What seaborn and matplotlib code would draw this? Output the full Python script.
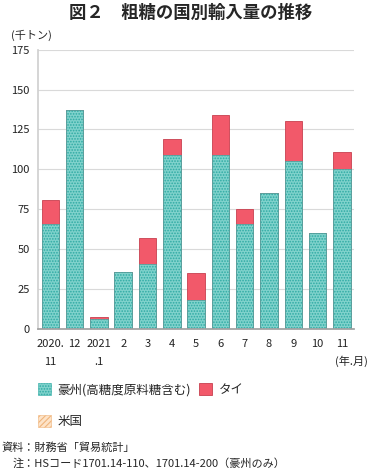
import numpy as np
import pandas as pd
import seaborn as sns
import matplotlib.pyplot as plt
from matplotlib.patches import Patch

# data (千トン)
months = ["2020.\n11", "12", "2021\n.1", "2", "3", "4", "5", "6", "7", "8", "9", "10", "11"]
australia = [66, 137, 6, 36, 41, 109, 18, 109, 66, 85, 105, 60, 100]
thailand = [15, 0, 1.5, 0, 16, 10, 17, 25, 9, 0, 25, 0, 11]
usa = [0, 0, 0, 0, 0, 0, 0, 0, 0, 0, 0, 0, 0]
y_ticks = [0, 25, 50, 75, 100, 125, 150, 175]

sns.set_theme(style="white")
plt.rcParams["font.family"] = ["Noto Sans CJK JP", "DejaVu Sans"]
plt.rcParams["hatch.linewidth"] = 0.8

df = pd.DataFrame({"month": months, "aus": australia, "thai": thailand, "usa": usa})
df["total_thai"] = df["aus"] + df["usa"] + df["thai"]
df["total_aus"] = df["aus"]

fig = plt.figure(figsize=(3.7, 4.68), dpi=100)
ax = fig.add_axes([0.103, 0.297, 0.854, 0.597])

c_aus, c_aus_edge = "#80d2cc", "#2eaaa3"
c_thai, c_thai_edge = "#f2596a", "#c8404f"
c_usa, c_usa_edge = "#fde3c8", "#f0b47a"

# タイは合計の高さで描いて、その上に豪州を重ねる
sns.barplot(data=df, x="month", y="total_thai", order=months, color=c_thai,
            saturation=1, width=0.72, edgecolor=c_thai_edge, linewidth=0.6, ax=ax)
sns.barplot(data=df, x="month", y="total_aus", order=months, color=c_aus,
            saturation=1, width=0.72, edgecolor=c_aus_edge, linewidth=0.4,
            hatch="......", ax=ax)

ax.set_xlim(-0.5, len(months) - 0.5)
ax.set_ylim(0, 175)
ax.set_yticks(y_ticks)
ax.yaxis.grid(True, color="#d9d9d9", linewidth=0.8)
ax.set_axisbelow(True)
ax.set_xlabel("")
ax.set_ylabel("")
for s in ["top", "right"]:
    ax.spines[s].set_visible(False)
ax.spines["left"].set_color("#d0d0d0")
ax.spines["bottom"].set_color("#a0a0a0")
ax.tick_params(axis="y", length=0, labelsize=8, pad=6, colors="#222222")
ax.set_xticks(range(len(months)))
ax.set_xticklabels(months, fontsize=8, linespacing=2.0, va="top")
ax.tick_params(axis="x", length=0, pad=7, colors="#222222")
ax.set_xticks(np.arange(-0.5, len(months), 1), minor=True)
ax.tick_params(axis="x", which="minor", length=3, color="#a0a0a0", direction="out")

fig.text(0.515, 0.972, "図２　粗糖の国別輸入量の推移", ha="center", va="center",
         fontsize=12.5, fontweight="bold")
fig.text(0.03, 0.925, "(千トン)", ha="left", va="center", fontsize=8)
fig.text(0.995, 0.228, "(年.月)", ha="right", va="center", fontsize=8)

handles = [
    Patch(facecolor=c_aus, edgecolor=c_aus_edge, hatch="......", linewidth=0.4),
    Patch(facecolor=c_usa, edgecolor=c_usa_edge, hatch="//////", linewidth=0.4),
    Patch(facecolor=c_thai, edgecolor=c_thai_edge, linewidth=0.6),
]
labels = ["豪州(高糖度原料糖含む)", "米国", "タイ"]
fig.legend(handles, labels, ncol=2, loc="upper left", bbox_to_anchor=(0.085, 0.195),
           frameon=False, fontsize=9, handlelength=1.1, handleheight=1.1,
           handletextpad=0.5, columnspacing=0.6, labelspacing=1.5, borderpad=0)

fig.text(0.005, 0.043, "資料：財務省「貿易統計」", ha="left", va="center", fontsize=8)
fig.text(0.035, 0.009, "注：HSコード1701.14-110、1701.14-200（豪州のみ）",
         ha="left", va="center", fontsize=8)

fig.savefig("out.png", dpi=100)
